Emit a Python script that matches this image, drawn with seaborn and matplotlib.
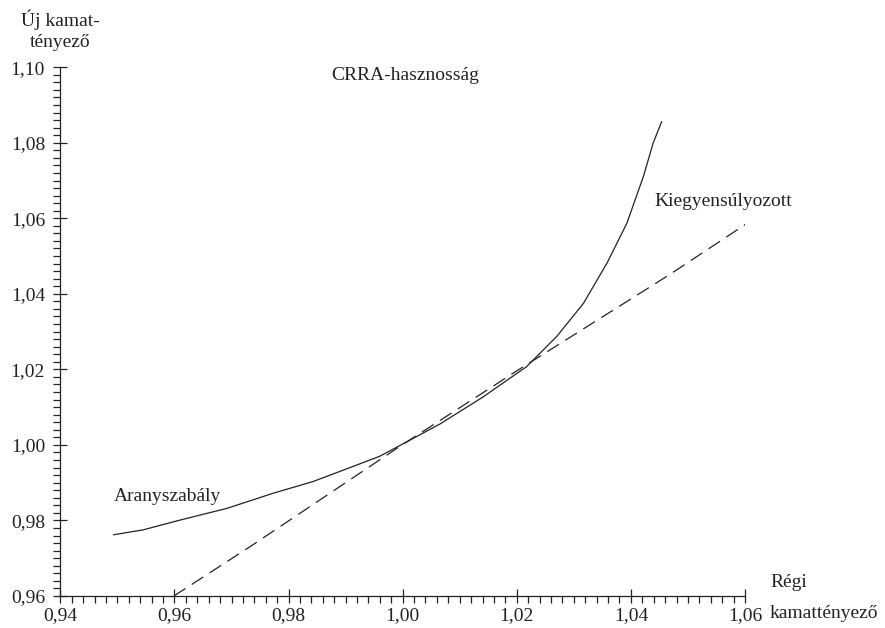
import pandas as pd
import matplotlib
matplotlib.use("Agg")
import matplotlib.pyplot as plt
from matplotlib.ticker import MultipleLocator, FuncFormatter
import seaborn as sns

# values
crra_x = [0.9493, 0.9545, 0.9610, 0.9692, 0.9773, 0.9843, 0.9913, 0.9960,
          1.0065, 1.0141, 1.0217, 1.0270, 1.0317, 1.0358, 1.0393, 1.0422,
          1.0439, 1.0454]
crra_y = [0.9762, 0.9775, 0.9801, 0.9832, 0.9872, 0.9903, 0.9943, 0.9970,
          1.0055, 1.0127, 1.0207, 1.0287, 1.0375, 1.0481, 1.0587, 1.0711,
          1.0799, 1.0856]
bal_x = [0.9599, 0.9733, 0.9995, 1.0200, 1.0469, 1.0605]
bal_y = [0.9600, 0.9731, 0.9996, 1.0196, 1.0452, 1.0588]

x_ticks = [0.94, 0.96, 0.98, 1.00, 1.02, 1.04, 1.06]
y_ticks = [0.96, 0.98, 1.00, 1.02, 1.04, 1.06, 1.08, 1.10]

sns.set_style("ticks")
plt.rcParams['font.family'] = ['Liberation Serif', 'DejaVu Serif']

crra_df = pd.DataFrame({'x': crra_x, 'y': crra_y})
bal_df = pd.DataFrame({'x': bal_x, 'y': bal_y})

fig = plt.figure(figsize=(8.85, 6.28), dpi=100)
ax = fig.add_axes([0.0682, 0.0510, 0.7736, 0.8420])

sns.lineplot(data=crra_df, x='x', y='y', ax=ax, color='#222222', lw=0.9,
             sort=False, estimator=None)
sns.lineplot(data=bal_df, x='x', y='y', ax=ax, color='#222222', lw=0.9,
             sort=False, estimator=None)
ax.lines[-1].set_dashes((11, 6))

ax.set_xlim(0.94, 1.06)
ax.set_ylim(0.96, 1.10)
ax.set_xticks(x_ticks)
ax.set_yticks(y_ticks)
ax.xaxis.set_minor_locator(MultipleLocator(0.002))
ax.yaxis.set_minor_locator(MultipleLocator(0.002))
fmt = FuncFormatter(lambda v, p: f"{v:.2f}".replace('.', ','))
ax.xaxis.set_major_formatter(fmt)
ax.yaxis.set_major_formatter(fmt)
ax.tick_params(which='major', direction='inout', length=10, width=0.9,
               labelsize=14, colors='#222222')
ax.tick_params(axis='y', which='major', pad=6)
ax.tick_params(axis='x', which='major', pad=3)
ax.tick_params(which='minor', direction='out', length=5, width=0.9, colors='#222222')
for s in ['top', 'right']:
    ax.spines[s].set_visible(False)
for s in ['left', 'bottom']:
    ax.spines[s].set_linewidth(0.9)
    ax.spines[s].set_color('#222222')
ax.set_xlabel('')
ax.set_ylabel('')

ax.text(1.0004, 1.0979, 'CRRA-hasznosság', fontsize=14, ha='center', va='center', color='#222222')
ax.text(1.0442, 1.0644, 'Kiegyensúlyozott', fontsize=14, ha='left', va='center', color='#222222')
ax.text(0.9493, 0.9863, 'Aranyszabály', fontsize=14, ha='left', va='center', color='#222222')
fig.text(0.068, 0.968, 'Új kamat-', fontsize=14, ha='center', va='center', color='#222222')
fig.text(0.068, 0.932, 'tényező', fontsize=14, ha='center', va='center', color='#222222')
fig.text(0.870, 0.0717, 'Régi', fontsize=14, ha='left', va='center', color='#222222')
fig.text(0.870, 0.0223, 'kamattényező', fontsize=14, ha='left', va='center', color='#222222')

fig.savefig('out.png', dpi=100)
